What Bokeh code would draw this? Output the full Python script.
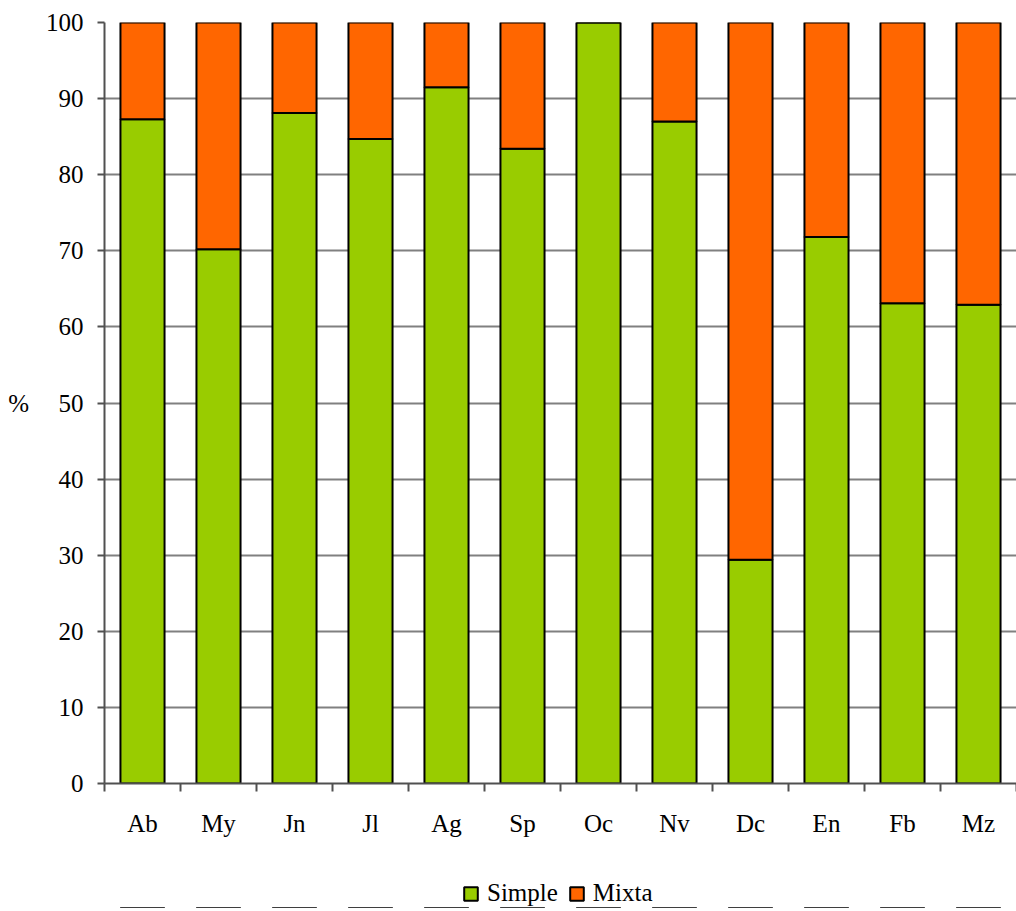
from bokeh.plotting import figure
from bokeh.layouts import column
from bokeh.models import ColumnDataSource, Range1d, FixedTicker, Legend, LegendItem
from bokeh.embed import file_html
from bokeh.resources import INLINE

months = ["Ab", "My", "Jn", "Jl", "Ag", "Sp", "Oc", "Nv", "Dc", "En", "Fb", "Mz"]
simple = [87.3, 70.2, 88.1, 84.7, 91.5, 83.4, 100.0, 87.0, 29.4, 71.8, 63.1, 62.9]
mixta = [round(100 - s, 1) for s in simple]
y_ticks = list(range(0, 101, 10))
series = ["Simple", "Mixta"]

FONT = "Liberation Serif"
GREEN = "#99CC00"
ORANGE = "#FF6600"

n = len(months)
centers = [i + 0.5 for i in range(n)]
bounds = [float(i) for i in range(n + 1)]
source = ColumnDataSource(dict(
    x=centers,
    simple=simple,
    mixta=mixta,
    top_mixta=[s + m for s, m in zip(simple, mixta)],
))

p = figure(frame_width=912, frame_height=761, output_backend="svg", toolbar_location=None,
           x_range=Range1d(0, n), y_range=Range1d(0, 100),
           min_border_left=104, min_border_right=0, min_border_top=22, min_border_bottom=0)
p.outline_line_color = None
p.background_fill_color = "white"
p.border_fill_color = "white"

r1 = p.vbar(x="x", bottom=0, top="simple", width=0.58, source=source,
            fill_color=GREEN, line_color="black", line_width=2)
r2 = p.vbar(x="x", bottom="simple", top="top_mixta", width=0.58, source=source,
            fill_color=ORANGE, line_color="black", line_width=2)

# x axis: labels at centers, tick marks at category boundaries
p.xaxis.ticker = FixedTicker(ticks=centers, minor_ticks=bounds)
p.xaxis.major_label_overrides = {c: m for c, m in zip(centers, months)}
p.xaxis.major_tick_out = 0
p.xaxis.major_tick_in = 0
p.xaxis.minor_tick_out = 8
p.xaxis.minor_tick_in = 0
p.xaxis.minor_tick_line_color = "#505050"
p.xaxis.minor_tick_line_width = 2
p.xaxis.axis_line_color = "#505050"
p.xaxis.axis_line_width = 2
p.xaxis.major_label_text_font = FONT
p.xaxis.major_label_text_font_size = "25px"
p.xaxis.major_label_text_color = "black"
p.xaxis.major_label_standoff = 18
p.xgrid.grid_line_color = None

# y axis
p.yaxis.ticker = FixedTicker(ticks=y_ticks, minor_ticks=[])
p.yaxis.major_tick_out = 7
p.yaxis.major_tick_in = 0
p.yaxis.major_tick_line_color = "#505050"
p.yaxis.major_tick_line_width = 2
p.yaxis.axis_line_color = "#505050"
p.yaxis.axis_line_width = 2
p.yaxis.major_label_text_font = FONT
p.yaxis.major_label_text_font_size = "25px"
p.yaxis.major_label_text_color = "black"
p.yaxis.major_label_standoff = 14
p.yaxis.axis_label = "%"
p.yaxis.axis_label_orientation = "horizontal"
p.yaxis.axis_label_text_font = FONT
p.yaxis.axis_label_text_font_size = "25px"
p.yaxis.axis_label_text_font_style = "normal"
p.yaxis.axis_label_text_color = "black"
p.yaxis.axis_label_standoff = 14
p.ygrid.grid_line_color = "#808080"
p.ygrid.grid_line_width = 2

# Legend strip below the chart (separate small figure, no axes; its bars lie
# outside its visible range so only the legend swatches show)
p2 = figure(width=1016, height=69, output_backend="svg", toolbar_location=None,
            x_range=Range1d(0, n), y_range=Range1d(1000, 1001),
            x_axis_location=None, y_axis_location=None, min_border=0)
p2.outline_line_color = None
p2.xgrid.grid_line_color = None
p2.ygrid.grid_line_color = None
l1 = p2.vbar(x="x", bottom=0, top="simple", width=0.58, source=source,
             fill_color=GREEN, line_color="black", line_width=2)
l2 = p2.vbar(x="x", bottom="simple", top="top_mixta", width=0.58, source=source,
             fill_color=ORANGE, line_color="black", line_width=2)

legend = Legend(items=[LegendItem(label=series[0], renderers=[l1]),
                       LegendItem(label=series[1], renderers=[l2])],
                orientation="horizontal", location=(358, 1))
legend.label_text_font = FONT
legend.label_text_font_size = "25px"
legend.label_text_color = "black"
legend.glyph_width = 17
legend.glyph_height = 17
legend.label_standoff = 8
legend.spacing = 10
legend.border_line_color = None
legend.background_fill_alpha = 0
legend.padding = 0
legend.margin = 0
p2.add_layout(legend, "center")

layout = column(p, p2, spacing=0)
open("out.html", "w").write(file_html(layout, INLINE))
